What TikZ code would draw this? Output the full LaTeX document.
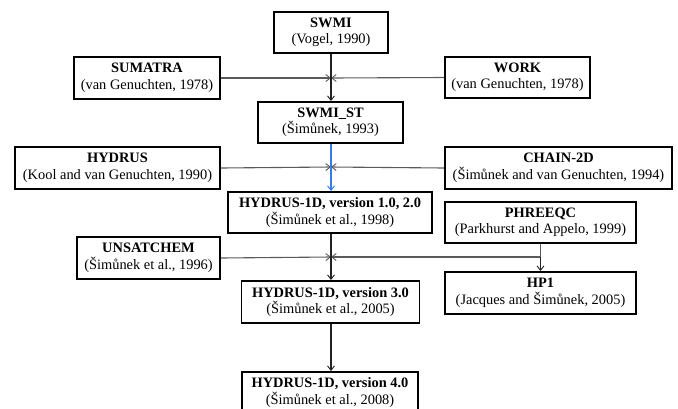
\documentclass[tikz,border=0pt]{standalone}
\usepackage{fontspec}
\setmainfont{Liberation Serif}
\usetikzlibrary{arrows.meta}
\definecolor{linegray}{HTML}{5A5A5A}
\definecolor{spineblk}{HTML}{222222}
\definecolor{spineblue}{HTML}{3A7BE0}
\tikzset{
  box/.style={draw=black, line width=1.9pt, align=center, inner sep=0pt,
    font=\fontsize{14.4}{16.5}\selectfont, fill=white},
  feed/.style={draw=linegray, line width=1.1pt, -{Straight Barb[length=4.5pt,width=7pt,line width=0.9pt]}},
  feedline/.style={draw=linegray, line width=1.1pt},
  down/.style={draw=spineblk, line width=1.1pt, -{Straight Barb[length=4.5pt,width=7pt,line width=0.9pt]}},
  bluedown/.style={draw=spineblue, line width=1.1pt, -{Straight Barb[length=4.5pt,width=7pt,line width=0.9pt]}},
}
\begin{document}
\begin{tikzpicture}[x=1pt,y=-1pt]
\useasboundingbox (0,0) rectangle (678,408);
\node[box, minimum width=114pt, minimum height=41pt] (swmi) at (331,32.5) {\textbf{SWMI}\\(Vogel, 1990)};
\node[box, minimum width=146pt, minimum height=42pt] (sumatra) at (147,78) {\textbf{SUMATRA}\\(van Genuchten, 1978)};
\node[box, minimum width=145pt, minimum height=41pt] (work) at (517.5,77.5) {\textbf{WORK}\\(van Genuchten, 1978)};
\node[box, minimum width=145pt, minimum height=41pt] (swmist) at (330.5,122.5) {\textbf{SWMI\_ST}\\(Šimůnek, 1993)};
\node[box, minimum width=205pt, minimum height=42pt] (hydrus) at (117.5,168) {\textbf{HYDRUS}\\(Kool and van Genuchten, 1990)};
\node[box, minimum width=227pt, minimum height=42pt] (chain) at (558.5,168) {\textbf{CHAIN-2D}\\(Šimůnek and van Genuchten, 1994)};
\node[box, minimum width=204pt, minimum height=41pt] (h1) at (330,212.5) {\textbf{HYDRUS-1D, version 1.0, 2.0}\\(Šimůnek et al., 1998)};
\node[box, minimum width=191pt, minimum height=41pt] (phreeqc) at (540.5,222.5) {\textbf{PHREEQC}\\(Parkhurst and Appelo, 1999)};
\node[box, minimum width=143pt, minimum height=42pt] (unsat) at (148.5,258) {\textbf{UNSATCHEM}\\(Šimůnek et al., 1996)};
\node[box, minimum width=191pt, minimum height=42pt] (hp1) at (540.5,293) {\textbf{HP1}\\(Jacques and Šimůnek, 2005)};
\node[box, minimum width=178pt, minimum height=42pt] (h3) at (330.5,302) {\textbf{HYDRUS-1D, version 3.0}\\(Šimůnek et al., 2005)};
\node[box, minimum width=176pt, minimum height=41pt] (h4) at (330,392.5) {\textbf{HYDRUS-1D, version 4.0}\\(Šimůnek et al., 2008)};

\coordinate (j1) at (331,78);
\coordinate (j2) at (331,167);
\coordinate (j3) at (331,257);
\coordinate (pj) at (540.5,257);

\draw[feed] (sumatra.east) -- (j1);
\draw[feed] (work.west) -- (j1);
\draw[feed] (hydrus.east) -- (j2);
\draw[feed] (chain.west) -- (j2);
\draw[feed] (unsat.east) -- (j3);
\draw[feedline] (phreeqc.south) -- (pj);
\draw[feed] (pj) -- (j3);
\draw[down] (pj) -- (hp1.north);

\draw[down] (swmi.south -| j1) -- (swmist.north -| j1);
\draw[bluedown] (swmist.south -| j1) -- (h1.north -| j1);
\draw[down] (h1.south -| j1) -- (h3.north -| j1);
\draw[down] (h3.south -| j1) -- (h4.north -| j1);
\end{tikzpicture}
\end{document}
